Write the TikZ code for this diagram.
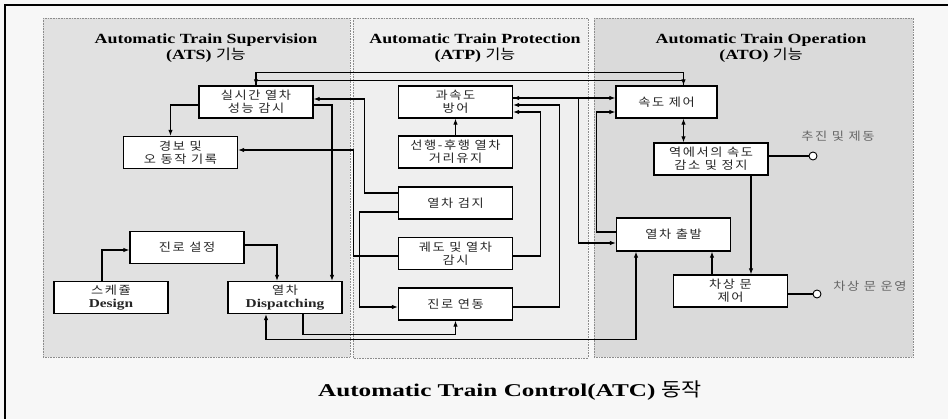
\documentclass[tikz,border=0pt]{standalone}
\usepackage{fontspec}
\setmainfont{Liberation Serif}
\newfontfamily\kr[FakeStretch=1.15,LetterSpace=14]{Noto Sans CJK KR}
\newfontfamily\krttl[FakeStretch=1.15]{Noto Sans CJK KR}
\newfontfamily\ttl[FakeStretch=1.28]{Liberation Serif}
\newfontfamily\bigttl[FakeStretch=1.4]{Liberation Serif}
\usetikzlibrary{arrows.meta}
\definecolor{bggray}{HTML}{F7F7F7}
\definecolor{atsgray}{HTML}{E1E1E1}
\definecolor{atpgray}{HTML}{EFEFEF}
\definecolor{atogray}{HTML}{DADADA}

\begin{document}
\begin{tikzpicture}[x=1pt,y=-1pt,>={Latex[length=6pt,width=4.5pt]},
    blk/.style={draw,fill=white,line width=1.3pt,minimum width=114pt,minimum height=32pt,
      inner sep=1pt,align=center,text=black!85,font=\kr\fontsize{11.5}{13}\selectfont},
    lnk/.style={line width=1.1pt},
    port/.style={circle,draw,fill=white,line width=0.9pt,inner sep=0pt,minimum size=8pt},
    panel/.style={densely dotted,draw=black!45,line width=0.6pt},
    ttlnode/.style={align=center,font=\ttl\bfseries\fontsize{14}{16}\selectfont}]
        \useasboundingbox (0,0) rectangle (948,419);
        \fill[bggray] (0,0) rectangle (948,419);
        \draw[line width=1.2pt] (5,419) -- (5,5) -- (948,5);

        %############################################ panels
        \draw[panel,fill=atsgray] (43,18) rectangle (350,357);
        \draw[panel,fill=atpgray] (353,18) rectangle (588,358);
        \draw[panel,fill=atogray] (594,18) rectangle (913,357);

        \node[ttlnode] (tATS) at (206,48) {Automatic Train Supervision\\(ATS)\ {\krttl\mdseries 기능}};
        \node[ttlnode] (tATP) at (475,48) {Automatic Train Protection\\(ATP)\ {\krttl\mdseries 기능}};
        \node[ttlnode] (tATO) at (761,48) {Automatic Train Operation\\(ATO)\ {\krttl\mdseries 기능}};
        \node[font=\bigttl\bfseries\fontsize{18}{20}\selectfont] (tATC) at (510,391)
            {Automatic Train Control(ATC) {\krttl\mdseries\fontsize{19}{20}\selectfont 동작}};

        %############################################ ATS
        \node[blk] (silsi) at (256,102) {실시간 열차\\성능 감시};
        \node[blk] (gyeongbo) at (180.5,152.5) {경보 및\\오 동작 기록};
        \node[blk] (jinro) at (187,247.5) {진로 설정};
        \node[blk] (sched) at (111,297.5) {스케쥴\\{\ttl\bfseries\fontsize{12}{13}\selectfont Design}};
        \node[blk] (disp) at (285,297.5) {열차\\{\ttl\bfseries\fontsize{12}{13}\selectfont Dispatching}};

        %############################################ ATP
        \node[blk] (gwasok) at (455.5,102) {과속도\\방어};
        \node[blk] (seonhaeng) at (455.5,152) {선행-후행 열차\\거리유지};
        \node[blk] (geomji) at (455.5,203) {열차 검지};
        \node[blk] (gwedo) at (455.5,253.5) {궤도 및 열차\\감시};
        \node[blk] (yeondong) at (455.5,304) {진로 연동};

        %############################################ ATO
        \node[blk,minimum width=101pt] (sokdo) at (666.5,102) {속도 제어};
        \node[blk] (station) at (711,159) {역에서의 속도\\감소 및 정지};
        \node[blk,minimum height=33pt] (depart) at (673.5,234.5) {열차 출발};
        \node[blk] (door) at (730.5,291) {차상 문\\제어};

        \node[port] (pb) at (813,156) {};
        \node[port] (dr) at (817,294) {};
        \node[text=black!60,font=\kr\fontsize{11.5}{13}\selectfont] (lpb) at (838,136) {추진 및 제동};
        \node[text=black!60,font=\kr\fontsize{11.5}{13}\selectfont] (ldr) at (870,286) {차상 문 운영};

        %############################################ connectors
        \draw[lnk,->] ([xshift=17pt]sokdo.north) -- ++(0,-13) -| (silsi.north);
        \draw[lnk,->] (silsi.north) -- ++(0,-5) -| ([xshift=17pt]sokdo.north);
        \draw[lnk,->] ([yshift=-3pt]silsi.west) -| ([xshift=-10pt]gyeongbo.north);
        \draw[lnk,->] ([yshift=10pt]geomji.west) -- ++(-33,0) |- ([yshift=3pt]silsi.east);
        \draw[lnk,->] ([yshift=-3pt]silsi.east) -| ([xshift=47pt]disp.north);
        \draw[lnk,->] ([yshift=-2.5pt]gwedo.west) -- ++(-44,0) |- ([yshift=2.5pt]gyeongbo.east);
        \draw[lnk,->] ([yshift=-9pt]geomji.west) -- ++(-38,0) |- ([yshift=-3pt]yeondong.west);
        \draw[lnk,->] ([yshift=2.5pt]jinro.east) -| ([xshift=-8pt]disp.north);
        \draw[lnk,->] ([xshift=-9pt]sched.north) |- ([yshift=-2.5pt]jinro.west);
        \draw[lnk,->] ([xshift=18pt]disp.south) -- ++(0,20) -| (yeondong.south);
        \draw[lnk,<->] ([xshift=-19pt]disp.south) -- ++(0,25) -| ([xshift=-37.5pt]depart.south);

        \draw[lnk,<->] ([yshift=4pt]gwasok.east) -- ([yshift=4pt]sokdo.west);
        \draw[lnk,->] ([yshift=4pt]gwasok.east) -- ++(65,0) |- ([yshift=-8.5pt]depart.west);
        \draw[lnk,->] ([yshift=-3pt]yeondong.east) -- ++(46,0) |- ([yshift=-3pt]gwasok.east);
        \draw[lnk,->] ([yshift=-2.5pt]gwedo.east) -- ++(27,0) |- ([yshift=-10pt]gwasok.east);
        \draw[lnk,->] (seonhaeng.north) -- (gwasok.south);

        \draw[lnk,->] ([yshift=2.5pt]depart.west) -- ++(-19,0) |- ([yshift=-10pt]sokdo.west);
        \draw[lnk,<->] ([xshift=17pt]sokdo.south) -- ([xshift=-27.5pt]station.north);
        \draw[lnk] (station.east |- pb) -- (pb);
        \draw[lnk,->] ([xshift=40pt]station.south) -- ([xshift=20.5pt]door.north);
        \draw[lnk,->] ([xshift=-18.5pt]door.north) -- ([xshift=38.5pt]depart.south);
        \draw[lnk] (door.east |- dr) -- (dr);
\end{tikzpicture}
\end{document}
